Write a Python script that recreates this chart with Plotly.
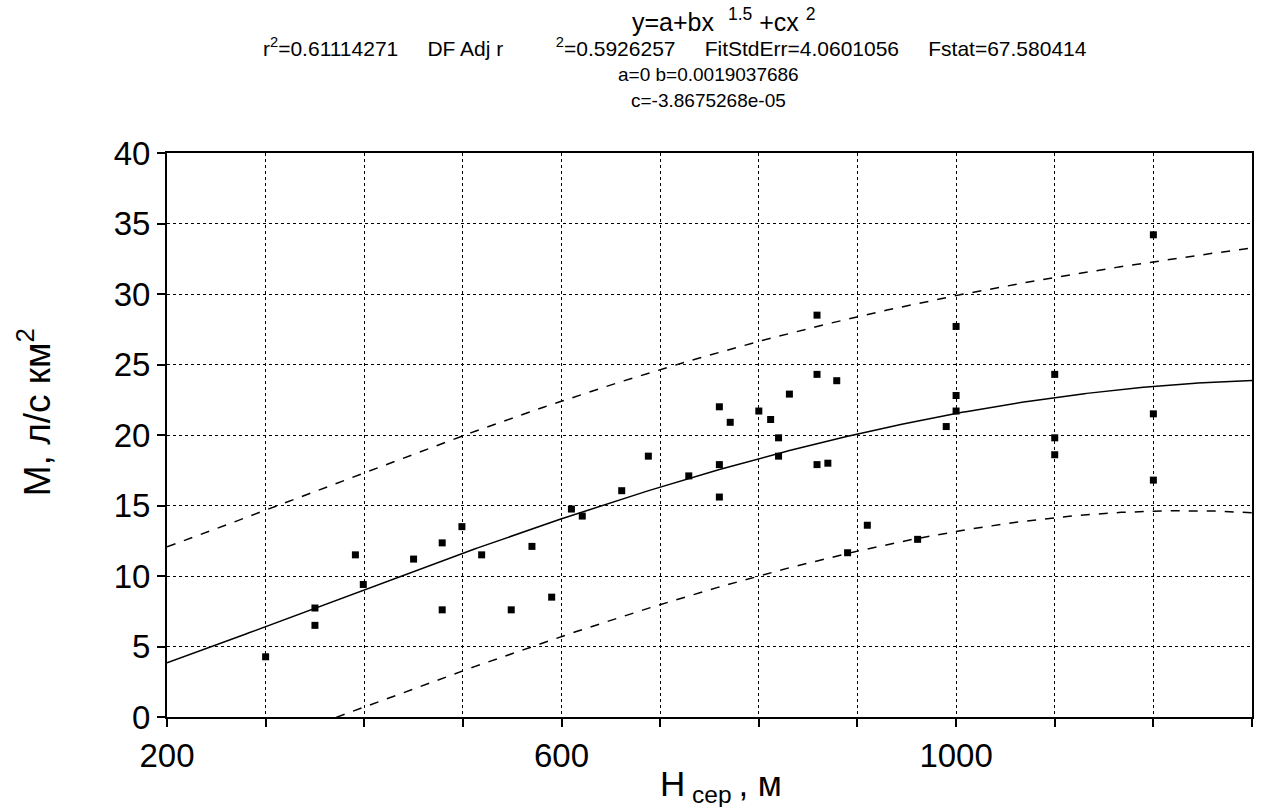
import numpy as np
import plotly.graph_objects as go

# Mean basin elevation H (m) and runoff modulus M (l/s per km2)
h_mean = [300, 350, 350, 391, 399, 450, 479, 479, 499, 519, 549, 570, 590, 610, 621,
          661, 688, 729, 760, 760, 760, 771, 800, 812, 820, 820, 831, 859, 859, 859,
          870, 879, 890, 910, 961, 990, 1000, 1000, 1000, 1100, 1100, 1100, 1200, 1200, 1200]
m_mod = [4.27, 7.73, 6.5, 11.5, 9.4, 11.2, 12.35, 7.6, 13.5, 11.5, 7.6, 12.1, 8.5, 14.75, 14.25,
         16.05, 18.5, 17.1, 22.0, 17.9, 15.6, 20.9, 21.7, 21.1, 19.8, 18.5, 22.9, 28.5, 24.3, 17.9,
         18.0, 23.85, 11.65, 13.6, 12.6, 20.6, 27.7, 22.8, 21.7, 24.3, 19.8, 18.6, 34.2, 21.5, 16.8]

# Fitted model y = a + b*x^1.5 + c*x^2 and its statistics
coef_a = 0.0
coef_b = 0.0019037686
coef_c = -3.8675268e-05
r2 = "0.61114271"
adj_r2 = "0.5926257"
fit_std_err = 4.0601056
fstat = "67.580414"
t_crit = 2.018  # two-sided 95 %, df = 42

x_tick_vals = list(range(200, 1301, 100))
x_tick_text = ["200", "", "", "", "600", "", "", "", "1000", "", "", ""]
y_tick_vals = list(range(0, 41, 5))

FONT = "Liberation Sans, Arial, sans-serif"
W, H = 1262, 807
ML, MR, MT, MB = 167, 8, 153, 90


def model(x):
    return coef_a + coef_b * x ** 1.5 + coef_c * x ** 2


# 95 % prediction band from the design matrix of the data
xd = np.asarray(h_mean, dtype=float)
X = np.column_stack([xd ** 1.5, xd ** 2])
xtx_inv = np.linalg.inv(X.T @ X)

xs = np.linspace(200, 1300, 441)
X0 = np.column_stack([xs ** 1.5, xs ** 2])
lev = np.einsum("ij,jk,ik->i", X0, xtx_inv, X0)
fit = model(xs)
half = t_crit * fit_std_err * np.sqrt(1.0 + lev)
upper = fit + half
lower = fit - half

fig = go.Figure()
fig.add_trace(go.Scatter(x=xs, y=upper, mode="lines",
                         line=dict(color="black", width=1.5, dash="dash"), hoverinfo="skip"))
fig.add_trace(go.Scatter(x=xs, y=lower, mode="lines",
                         line=dict(color="black", width=1.5, dash="dash"), hoverinfo="skip"))
fig.add_trace(go.Scatter(x=xs, y=fit, mode="lines",
                         line=dict(color="black", width=1.5), hoverinfo="skip"))
fig.add_trace(go.Scatter(x=h_mean, y=m_mod, mode="markers",
                         marker=dict(symbol="square", size=7, color="black")))


def py(pix):
    # pixel row in the page -> paper y coordinate
    return (H - MB - pix) / (H - MT - MB)


def px(pix):
    return (pix - ML) / (W - ML - MR)


nb = "\u00a0"
gap = nb * 5
anns = [
    dict(text=f"y=a+bx{nb}{nb}<sup>1.5</sup>{nb}+cx{nb}<sup>2</sup>", x=px(725), y=py(20), size=25),
    dict(text=(f"r<sup>2</sup>={r2}{gap}DF Adj r{nb * 9}<sup>2</sup>={adj_r2}{gap}"
               f"FitStdErr={fit_std_err}{gap}Fstat={fstat}"), x=px(676), y=py(47), size=21),
    dict(text=f"a={coef_a:g} b={coef_b}", x=px(709), y=py(74), size=19),
    dict(text=f"c={coef_c:.7e}", x=px(709), y=py(100), size=19),
]
for a in anns:
    fig.add_annotation(text=a["text"], x=a["x"], y=a["y"], xref="paper", yref="paper",
                       xanchor="center", yanchor="middle", showarrow=False,
                       font=dict(family=FONT, size=a["size"], color="black"))

fig.add_annotation(text="М, л/с км<sup>2</sup>", x=px(34), y=py(412), xref="paper", yref="paper",
                   textangle=-90, showarrow=False, xanchor="center", yanchor="middle",
                   font=dict(family=FONT, size=37, color="black"))
fig.add_annotation(text=f"H<sub>{nb}сер{nb}</sub>, м", x=px(722), y=py(786), xref="paper", yref="paper",
                   showarrow=False, xanchor="center", yanchor="middle",
                   font=dict(family=FONT, size=35, color="black"))

axis_common = dict(showline=True, linecolor="black", linewidth=2, mirror=True,
                   ticks="outside", ticklen=8, tickwidth=1.5, tickcolor="black",
                   showgrid=True, gridcolor="black", gridwidth=1, griddash="dot",
                   zeroline=False, tickfont=dict(family=FONT, size=33, color="black"))

fig.update_layout(
    width=W, height=H,
    margin=dict(l=ML, r=MR, t=MT, b=MB),
    paper_bgcolor="white", plot_bgcolor="white",
    showlegend=False,
    xaxis=dict(range=[200, 1300], tickmode="array", tickvals=x_tick_vals, ticktext=x_tick_text,
               **axis_common),
    yaxis=dict(range=[0, 40], tickmode="array", tickvals=y_tick_vals, **axis_common),
)

fig.write_html("out.html")
